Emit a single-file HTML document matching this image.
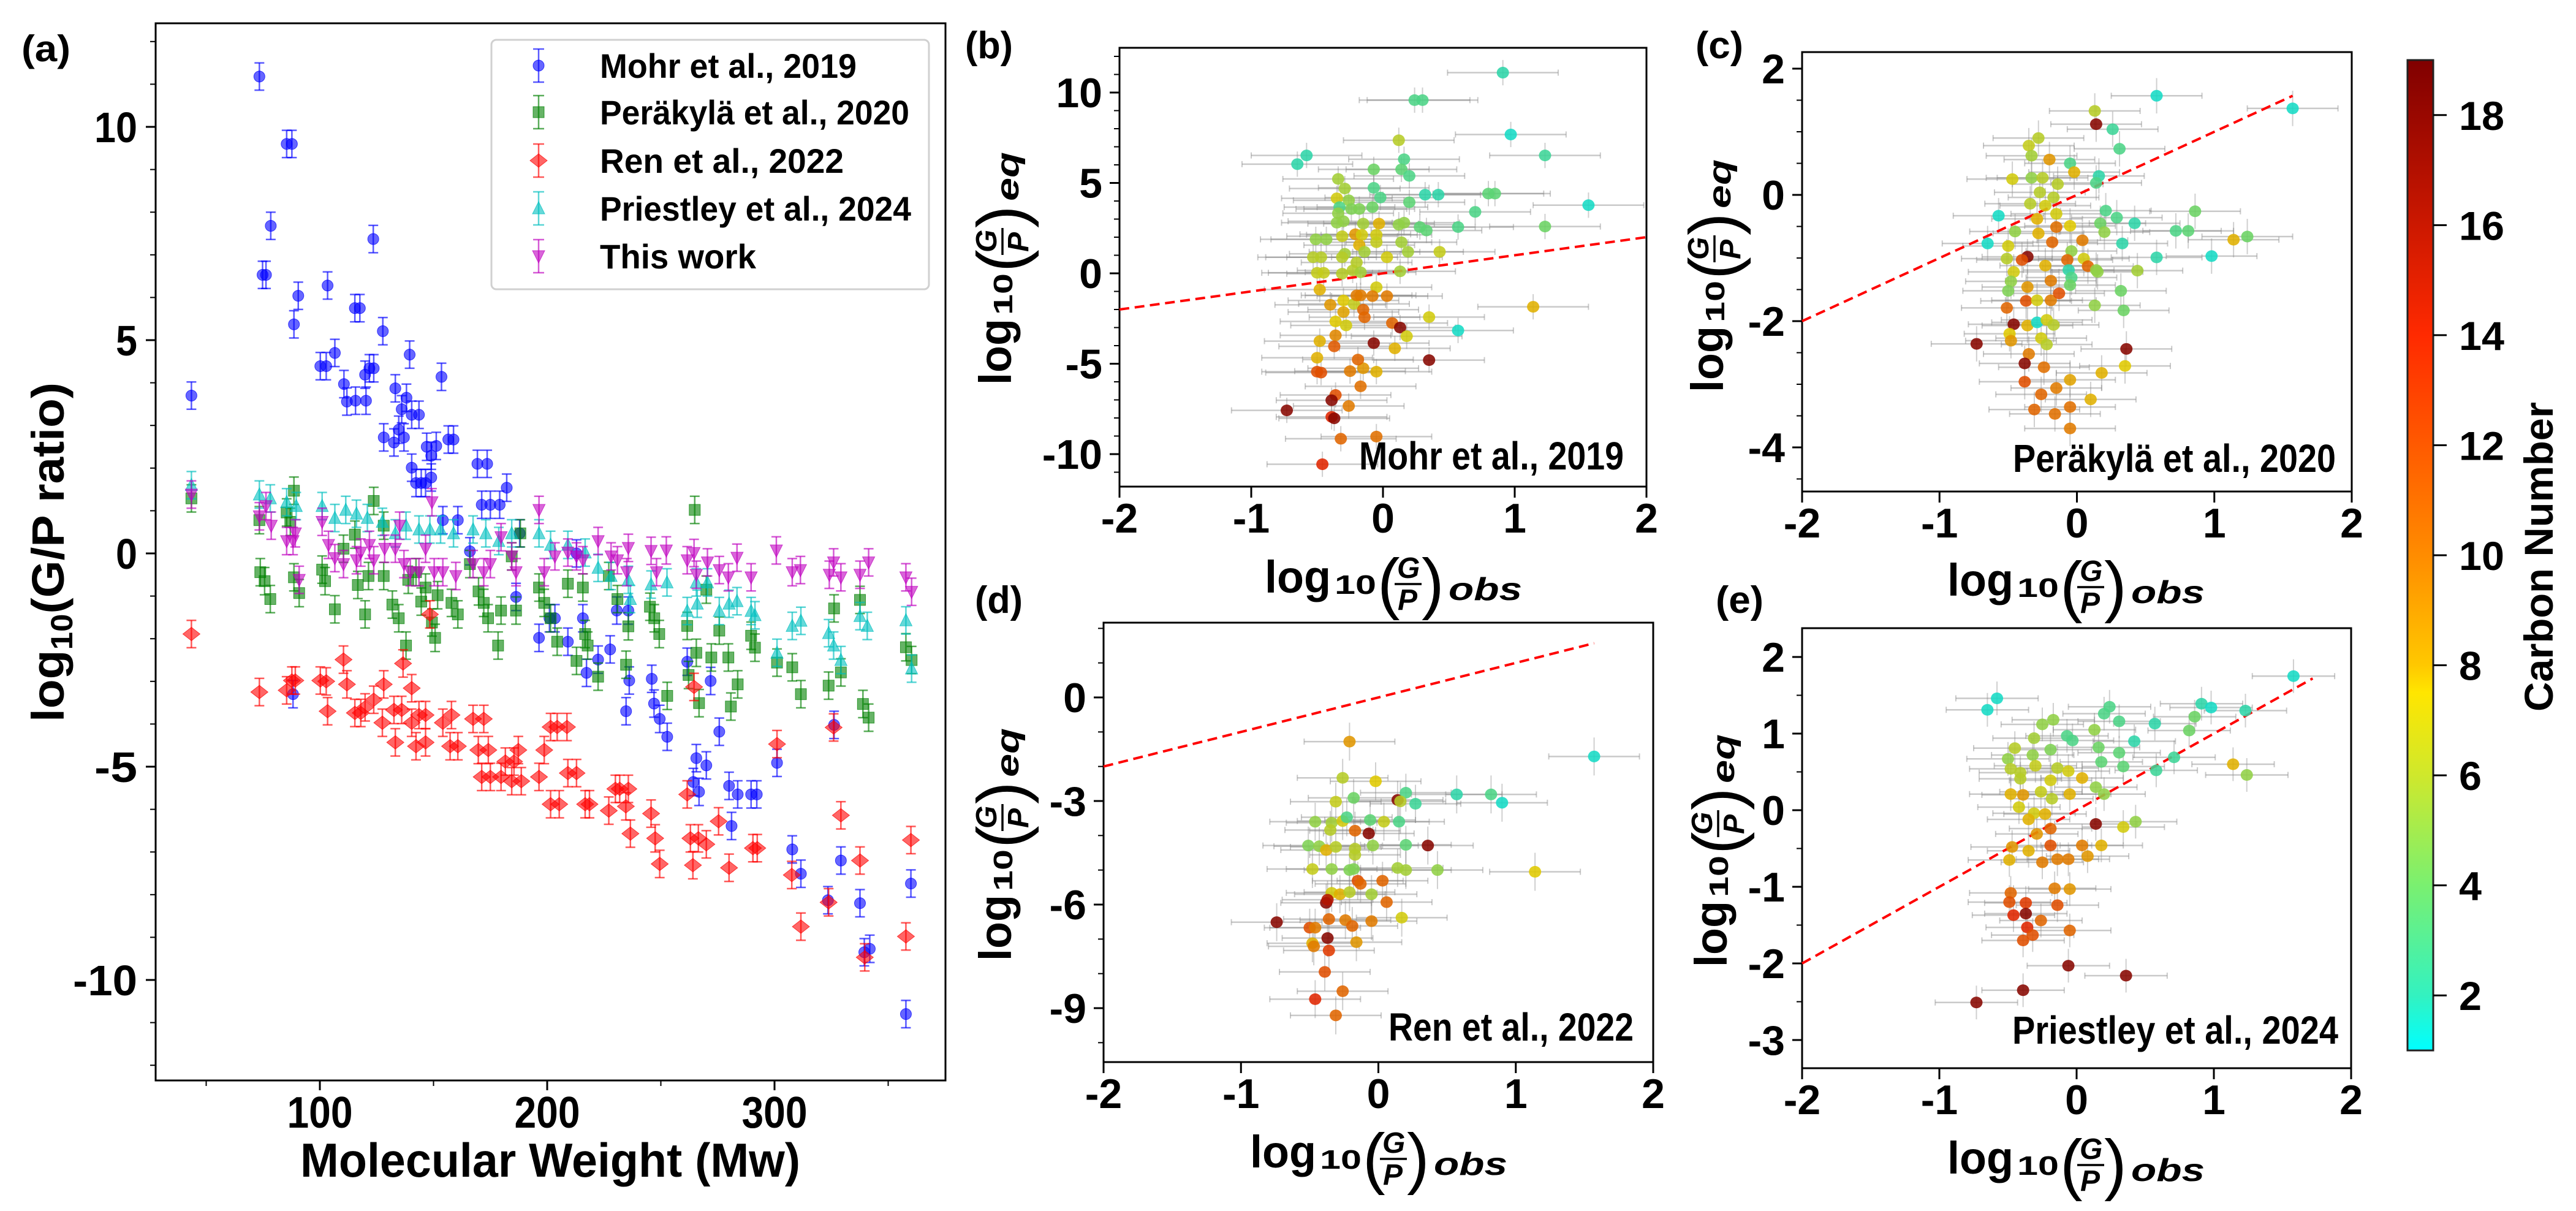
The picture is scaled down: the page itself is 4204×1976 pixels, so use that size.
<!DOCTYPE html>
<html><head><meta charset="utf-8"><title>G/P ratio figure</title>
<style>
html,body{margin:0;padding:0;background:#fff;}
svg{display:block;font-family:"Liberation Sans",Arial,sans-serif;}
</style></head>
<body>
<svg id="fig" xmlns="http://www.w3.org/2000/svg" width="4204" height="1976" viewBox="0 0 4204 1976">
<defs>
<linearGradient id="cmap" x1="0" y1="1" x2="0" y2="0">
<stop offset="0" stop-color="#00ffff"/>
<stop offset="0.0556" stop-color="#33f2c0"/>
<stop offset="0.1667" stop-color="#7af070"/>
<stop offset="0.2778" stop-color="#cfe82c"/>
<stop offset="0.3611" stop-color="#ffe600"/>
<stop offset="0.3889" stop-color="#ffc800"/>
<stop offset="0.5" stop-color="#ff8c00"/>
<stop offset="0.6111" stop-color="#ff5a00"/>
<stop offset="0.7222" stop-color="#ff2a00"/>
<stop offset="0.8333" stop-color="#cc1800"/>
<stop offset="1" stop-color="#800000"/>
</linearGradient>
</defs>
<g id="root"></g>
</svg>
<script>
// ---------------- Panel (a) data ----------------
const mohrMw = [43.5,73.4,74.8,76.3,78.4,85.4,87.7,88.6,90.5,88.2,100.2,102.8,103.4,106.6,110.6,111.9,115.4,117.6,115.7,120.3,119.9,121.8,123.7,123.5,127.7,128.1,133.2,132.6,134.7,137,136,138.1,139.5,140.4,143.6,140.4,142.3,144.6,146.5,149,147,149,151.2,153.5,156.5,158.8,169.3,173.6,171.2,175,179.1,182.2,154.1,160.7,166,187.9,186.3,196.4,201,203.4,209.1,212.9,215.7,217.3,222.4,227.7,230.6,235.7,236.1,234.7,246,247,249.5,252.8,261.6,265.6,264.3,266.8,270,271.9,275.7,280,283.8,281.1,289.7,292.2,301.1,307.8,311.6,323.5,326.2,329.2,337.6,339.5,341.9,357.8,360];
const mohrY = [3.7,11.18,6.53,6.53,7.68,9.6,9.6,5.37,6.04,-3.3,4.39,4.39,6.28,4.7,3.97,3.56,5.75,5.75,3.58,3.58,4.19,4.34,4.34,7.37,5.21,2.72,3.87,2.6,2.9,2.72,3.38,3.65,4.66,3.25,3.25,2.01,1.65,1.65,1.65,1.78,2.5,2.29,2.52,4.14,2.67,2.67,2.1,2.1,1.14,1.14,1.14,1.54,0.78,0.78,0.05,0.47,-1.02,-1.98,-1.52,-1.52,-2.07,0,-1.52,-2.8,-2.49,-2.25,-1.34,-1.34,-2.98,-3.7,-2.94,-3.52,-3.88,-4.3,-2.54,-4.8,-5.36,-5.59,-4.97,-2.99,-4.18,-5.45,-5.65,-6.39,-5.65,-5.65,-4.91,-6.94,-7.51,-8.13,-4.02,-7.2,-8.2,-9.35,-9.27,-10.8,-7.74];
const perMw = [43.5,73.4,73.8,75.7,78.2,85.4,87,88.6,88.6,90.9,101,102.3,106.6,110.4,115.4,116.7,119.9,121.4,123.7,128.1,128.1,131.9,134.7,137.9,138.9,142.3,144.6,146.5,149.3,150.7,151.8,157.9,160.7,166,169.8,172.1,174,178.4,179.7,186.3,184.4,188.2,196.4,198.7,201.5,204.4,209.1,212.9,215.7,216.7,217.8,222.4,227.1,230.9,234.7,235.7,245.2,247.1,249.3,252.8,264.9,261.6,262.2,265.6,266.8,270,272.2,275.7,279.7,280.8,283.8,289.7,291.4,301.1,307.8,311.6,323.8,326.2,329.2,337.6,338.9,341.4,357.8,360.3];
const perY = [1.29,0.78,-0.44,-0.65,-1.07,0.96,0.74,1.47,-0.56,-0.93,-0.38,-0.65,-1.31,0.11,0.44,-0.74,-1.43,-0.53,1.23,-0.53,0.65,-1.2,-1.52,-2.16,-0.62,-0.44,-1.13,-0.8,-1.62,-1.98,-0.98,-1.16,-1.43,-0.25,-0.89,-1.16,-1.52,-2.16,-1.34,-1.34,-0.07,0.47,-0.8,-1.16,-1.52,-2.07,-0.71,-2.52,-0.8,-1.89,-2.16,-2.89,-0.53,-1.07,-2.61,-1.71,-1.25,-1.52,-1.89,-3.34,1.02,-1.7,-2.85,-2.33,-3.51,-0.85,-2.44,-1.81,-2.44,-3.59,-3.07,-1.93,-2.21,-2.56,-2.67,-3.3,-3.1,-1.29,-2.79,-1.09,-3.53,-3.85,-2.2,-2.5];
const renMw = [43.5,73.4,85.4,87.7,89.2,100.2,102.8,103.4,110.4,111.9,115.4,118,119.9,123.7,127.5,128.1,133.2,132.6,136,136.6,140.4,140.4,142.3,143.6,146.5,146.5,148.4,154.1,157.9,157.3,160.7,167.4,172.1,169.7,174.1,171.2,175,179.7,181.6,185.4,187.3,184.4,188.6,196.4,198.7,201.5,204.4,201.5,205.3,208.7,209.1,212.9,216.7,218.6,227.1,230,231.9,235.7,234.6,236.6,245.7,247.5,249.5,261.6,263,264.1,266.5,270,264.6,275.4,280,290.5,292.4,301.1,307.6,311.6,323.8,326,329.2,337.6,339.7,357.8,360];
const renY = [-1.89,-3.25,-3.21,-2.98,-2.98,-2.98,-3.0,-3.7,-2.49,-3.07,-3.74,-3.74,-3.61,-3.43,-3.97,-3.07,-4.43,-3.67,-3.67,-2.58,-3.16,-3.97,-4.52,-3.79,-3.79,-4.43,-1.43,-3.97,-3.79,-4.52,-4.52,-3.88,-3.88,-4.61,-4.61,-5.24,-5.24,-5.24,-4.88,-4.88,-4.61,-5.34,-5.34,-5.24,-4.61,-4.07,-4.07,-5.88,-5.88,-4.07,-5.15,-5.15,-5.88,-5.88,-6.03,-5.52,-5.52,-5.52,-5.93,-6.57,-6.1,-6.68,-7.28,-5.65,-6.68,-7.31,-6.68,-6.82,-3.13,-6.28,-7.37,-6.91,-6.91,-4.47,-7.54,-8.75,-8.18,-4.08,-6.14,-7.2,-9.47,-8.98,-6.72];
const priMw = [43.5,73.4,78.2,85.4,89.6,101,106.6,111.4,116.1,120.9,127.5,133.2,137.9,143.6,148.4,153.1,158.8,167.4,173,178.7,184.4,196.4,201.5,209.1,216.7,222.4,228.1,235.7,236.6,245.7,252.7,261.6,265.6,266,270.5,275.7,280,283.5,289.7,291.4,301.1,307.8,311.6,323.8,326,329.2,337.6,340.8,357.8,360.3];
const priY = [1.6,1.38,1.29,1.2,1.11,1.11,0.83,1.02,0.93,0.83,0.74,0.47,0.65,0.56,0.56,0.56,0.47,0.56,0.47,0.29,0.47,0.47,0.2,0.2,0.02,-0.34,-0.53,-0.62,-1.07,-0.73,-0.68,-1.35,-0.68,-1.18,-0.68,-1.35,-1.18,-1.12,-1.35,-1.45,-2.33,-1.7,-1.58,-1.87,-2.16,-2.5,-1.47,-1.7,-1.57,-2.7];
const thisMw = [43.5,73.4,76.3,78.6,85.4,88.2,89.2,90.9,101,103.8,106.6,110.4,116.1,118,121.8,123.7,128.5,133.2,135.1,137,139.8,143.6,146.5,149.3,150.3,154.1,159.8,167.4,172.1,175,179.7,184.4,186.3,196.4,198.7,203.4,209.1,212.9,215.7,222.4,228.1,230.9,235.7,235,245.7,248.1,252.4,261.6,264.6,265.6,270.5,275.7,279.7,283.5,289.7,300.8,307.8,311.4,324.1,326,329.2,337.6,341.4,357.8,360.3];
const thisY = [1.38,0.87,1.11,0.65,0.29,0.29,0.47,-0.62,0.74,0.2,-0.11,-0.25,-0.16,0.02,0.2,-0.16,0.11,0.11,0.65,-0.25,-0.44,-0.44,0.11,1.2,-0.44,-0.44,-0.53,-0.25,-0.44,-0.25,0.38,-0.07,-0.44,1.02,-0.44,-0.07,0.02,-0.07,-0.16,0.29,-0.07,-0.16,0.13,-0.44,0.06,-0.44,0.07,-0.16,0.01,-0.5,-0.21,-0.39,-0.56,-0.1,-0.56,0.07,-0.44,-0.39,-0.5,-0.21,-0.56,-0.5,-0.21,-0.56,-0.9];
const aErr = 0.32;
const aXTicks = [100,200,300];
const aYTicks = [-10,-5,0,5,10];
const legendLabels = ["Mohr et al., 2019","Peräkylä et al., 2020","Ren et al., 2022","Priestley et al., 2024","This work"];

// ---------------- Panel (b) Mohr ----------------
const bX = [0.91,0.24,0.30,0.97,0.12,-0.58,-0.65,0.16,1.23,-0.07,0.14,0.2,-0.34,-0.29,-0.07,-0.35,-0.26,-0.02,0.32,0.42,0.80,0.85,0.2,1.56,-0.33,-0.24,-0.18,-0.08,0.7,-0.34,-0.35,-0.3,-0.15,-0.03,0.12,0.16,0.28,0.33,0.57,1.23,-0.51,-0.43,-0.31,-0.21,-0.16,-0.05,-0.05,-0.18,0.14,-0.29,-0.14,0.19,0.43,-0.53,-0.47,-0.31,0.03,-0.2,-0.5,-0.45,-0.31,-0.23,-0.17,0.13,-0.48,-0.05,-0.4,-0.3,-0.22,-0.2,-0.17,-0.08,0.03,-0.3,-0.15,-0.14,0.35,1.14,-0.36,-0.28,0.07,0.13,0.57,-0.48,-0.36,-0.37,-0.07,0.09,0.18,0.35,-0.5,-0.5,-0.47,-0.25,-0.15,-0.19,-0.05,-0.17,-0.36,-0.39,-0.73,-0.26,-0.39,-0.37,-0.32,-0.05,-0.46];
const bY = [11.1,9.58,9.58,7.68,7.36,6.52,6.04,6.31,6.52,5.75,5.75,5.39,5.22,4.69,4.73,4.15,4.04,4.19,4.35,4.35,4.41,4.41,3.93,3.77,3.66,3.56,3.56,3.66,3.4,3.32,2.8,2.88,2.75,2.75,2.69,2.8,2.56,2.37,2.56,2.59,1.88,1.88,2.05,2.16,2.13,2.13,1.72,1.56,1.72,1.08,1.19,1.19,1.19,0.89,0.89,0.89,0.89,0.6,0.03,0.03,-0.02,0.16,0.06,0.11,-0.9,-0.77,-1.74,-1.5,-1.69,-1.22,-1.22,-1.26,-1.26,-2.14,-2.01,-2.43,-2.42,-1.85,-2.66,-2.88,-2.75,-3.0,-3.16,-3.75,-3.43,-4.04,-3.86,-4.15,-3.48,-4.8,-4.67,-5.44,-5.49,-5.41,-5.25,-4.77,-5.44,-6.25,-6.73,-7.02,-7.58,-7.34,-7.94,-8.02,-9.15,-9.03,-10.56];
const bC = [2,3,3,1.5,6,2,2,3,2.5,4,3.5,3,5.5,5.5,3,7,5,3,2,2,3.5,3.5,3.5,1.5,3,4.5,4.5,4,3,5,5,5,5.5,8,5,5,3.5,3.5,3,4,5,5,6.5,9,7,7,6.5,8,5.5,5.5,5.5,5.5,6.5,6,6,6,7,6,6.5,6.5,6,6,5.5,5.5,8,7,9,7.5,6.5,10,10,10,10,8.5,11,11,7,8,7.5,7,11,18,1.5,8,9.5,11.5,18,8,7,18,8,12,12,10,9,11,8,10.5,12,18,18,10,14,18,11,10.5,14];
// ---------------- Panel (c) Peräkylä ----------------
const cX = [0.58,1.57,0.13,0.14,0.26,-0.28,-0.35,-0.33,0.31,-0.2,-0.05,-0.02,0.16,-0.47,-0.33,-0.25,-0.14,0.14,-0.27,-0.17,-0.34,-0.23,-0.15,0.21,-0.57,-0.29,-0.15,-0.05,0.17,0.29,0.42,0.2,0.72,0.81,0.86,1.14,1.24,-0.45,-0.28,-0.18,0.04,0.33,-0.65,-0.5,-0.04,-0.51,-0.36,-0.4,-0.07,0.05,0.08,0.58,0.98,-0.46,-0.23,-0.06,0.14,0.15,0.44,-0.48,-0.36,-0.19,-0.04,-0.05,0.32,-0.5,-0.37,-0.29,-0.19,-0.13,0.13,0.34,-0.51,-0.46,-0.36,-0.29,-0.22,-0.17,-0.73,-0.49,-0.48,-0.26,-0.22,0.36,-0.35,-0.38,-0.24,0.18,0.35,-0.38,-0.05,-0.15,-0.26,0.1,-0.31,-0.16,-0.05,-0.05];
const cY = [1.57,1.37,1.33,1.12,1.04,0.9,0.78,0.62,0.73,0.56,0.5,0.36,0.3,0.25,0.27,0.27,0.17,0.19,0.04,-0.04,-0.14,-0.17,-0.3,-0.25,-0.33,-0.38,-0.51,-0.49,-0.45,-0.36,-0.45,-0.59,-0.57,-0.57,-0.26,-0.71,-0.66,-0.58,-0.61,-0.75,-0.72,-0.77,-0.77,-0.81,-0.89,-1.01,-0.98,-1.03,-1.03,-1.01,-1.13,-0.99,-0.97,-1.22,-1.12,-1.19,-1.19,-1.22,-1.2,-1.37,-1.46,-1.36,-1.31,-1.43,-1.52,-1.52,-1.68,-1.67,-1.67,-1.56,-1.75,-1.83,-1.79,-2.05,-2.07,-2.02,-1.98,-2.06,-2.36,-2.2,-2.31,-2.27,-2.37,-2.44,-2.52,-2.67,-2.73,-2.82,-2.71,-2.96,-2.93,-3.06,-3.16,-3.24,-3.4,-3.47,-3.36,-3.7];
const cC = [1.5,1.5,6,18,2.5,6,6.5,5.5,3,9,3,8,2,7,5,6,6,3,6,6,6,7,7,3,1.5,8,10.5,7.5,4,3,2,5,3,3.5,4,8,4,5,8,11,10,2,1.5,7,5,6,18,12,11,7,11,2,1.5,7,8,2,5,5,5.5,5,9,10,3,4,4,4.5,12,7,10,12,5,4,11,18,8,1.5,7,6,18,7.5,9,7,6,18,10,18,10.5,8,7.5,12,8.5,10,11,8,11,10.5,10.5,10];
// ---------------- Panel (d) Ren ----------------
const dX = [-0.21,1.57,-0.26,-0.02,-0.31,-0.18,0.14,0.2,0.16,0.27,0.57,0.82,0.9,-0.46,-0.34,-0.26,-0.23,-0.06,0.04,0.15,-0.17,-0.07,-0.35,-0.51,-0.43,-0.38,-0.31,-0.17,-0.17,-0.04,0.2,0.36,-0.48,-0.34,-0.21,-0.18,0.14,0.2,0.43,1.14,-0.15,0.03,-0.13,-0.34,-0.28,-0.21,-0.05,0.06,-0.38,-0.37,-0.36,-0.24,-0.05,0.17,-0.74,-0.5,-0.46,-0.19,-0.37,-0.48,-0.47,-0.16,-0.36,-0.39,-0.26,-0.46,-0.31];
const dY = [-1.28,-1.71,-2.33,-2.43,-3.02,-2.91,-2.97,-2.76,-3.01,-3.08,-2.81,-2.81,-3.05,-3.6,-3.63,-3.58,-3.47,-3.55,-3.6,-3.6,-3.86,-3.94,-3.84,-4.29,-4.31,-4.42,-4.33,-4.38,-4.56,-4.29,-4.27,-4.29,-4.97,-4.97,-5.0,-4.97,-4.94,-5.0,-5.0,-5.05,-5.31,-5.31,-5.4,-5.66,-5.7,-5.64,-5.7,-5.93,-5.95,-5.86,-6.42,-6.45,-6.48,-6.38,-6.51,-6.67,-6.67,-6.62,-6.97,-7.12,-7.21,-7.09,-7.33,-7.95,-8.51,-8.74,-9.21];
const dC = [9,1.5,6,7.5,6.5,4,18,3,6,2.5,2,3,1.5,5,5.5,7,3,3.5,6.5,3,11,18,6,4.5,5,8,6,6,6,5,3.5,18,6.5,5,4.5,4.5,5.5,5.5,5,7.5,12,11,11,7,8,6,5.5,11,18,16,11,10,10,7,18,12,10,11,18,8,10,9,13,12,11,14,11];
// ---------------- Panel (e) Priestley ----------------
const eX = [1.58,-0.58,-0.65,0.91,0.98,1.23,0.24,0.2,0.31,0.57,0.86,0.82,-0.17,-0.25,-0.31,-0.07,0.13,0.42,-0.45,-0.5,-0.32,-0.19,-0.03,0.16,0.31,0.71,-0.48,-0.41,-0.3,-0.14,-0.06,0.18,0.34,0.58,1.14,1.24,-0.41,-0.19,0.04,0.14,-0.48,-0.39,-0.26,-0.18,-0.05,0.2,-0.42,-0.31,-0.23,-0.35,-0.19,0.14,0.34,0.43,-0.29,-0.47,-0.19,0.04,0.18,-0.35,-0.49,-0.25,-0.14,-0.06,0.08,-0.16,-0.05,-0.48,-0.49,-0.37,-0.14,-0.46,-0.37,-0.26,-0.36,-0.32,-0.05,-0.39,-0.06,0.36,-0.39,-0.73];
const eY = [1.75,1.46,1.31,1.39,1.34,1.3,1.35,1.26,1.16,1.13,1.22,1.04,1.18,1.12,0.94,0.97,1.05,0.9,0.81,0.67,0.72,0.79,0.91,0.82,0.75,0.69,0.54,0.49,0.58,0.55,0.51,0.63,0.57,0.52,0.6,0.46,0.41,0.39,0.42,0.3,0.21,0.2,0.24,0.15,0.21,0.21,0.04,-0.04,-0.05,-0.12,-0.24,-0.18,-0.22,-0.15,-0.31,-0.48,-0.46,-0.46,-0.46,-0.53,-0.65,-0.68,-0.64,-0.64,-0.6,-1.02,-1.03,-1.08,-1.2,-1.21,-1.24,-1.37,-1.35,-1.44,-1.53,-1.63,-1.57,-1.7,-2.03,-2.16,-2.35,-2.51];
const eC = [1.5,1.5,1.5,2,1.5,2,3,3,3,2,4,4,5,5,5.5,3,5,2,6,5,5,4.5,3,4,3.5,2.5,6,6,6.5,6,7,3.5,3.5,2.5,8,5,6,7,8,5,8,9,6.5,6,8,5,7,7,8,8,11,18,7,5,9,9,12,10,8,8,8,10,10,10,9,10,9,11,12,13,12,14,18,11,14,12,11,12,18,18,18,18];
const sXTicks = [-2,-1,0,1,2];
const bYTicks = [-10,-5,0,5,10];
const cYTicks = [-4,-2,0,2];
const dYTicks = [-9,-6,-3,0];
const eYTicks = [-3,-2,-1,0,1,2];
const cbTicks = [2,4,6,8,10,12,14,16,18];
const xErrs = {b:0.42,c:0.33,d:0.33,e:0.3};
const yErrs = {b:0.7,c:0.28,d:0.55,e:0.22};

// ---------------- helpers ----------------
const NS = "http://www.w3.org/2000/svg";
const root = document.getElementById('root');
function mk(tag, attrs, parent){ const e=document.createElementNS(NS,tag); for(const k in attrs) e.setAttribute(k,attrs[k]); (parent||root).appendChild(e); return e; }
function txt(s, attrs, parent){ const e=mk('text',attrs,parent); e.textContent=s; return e; }
function lin(a0,a1,p0,p1){ return v => p0 + (v-a0)/(a1-a0)*(p1-p0); }

const stops=[[1,[0,255,255]],[2,[51,242,192]],[4,[122,240,112]],[6,[207,232,44]],[7.5,[255,230,0]],[8,[255,200,0]],[10,[255,140,0]],[12,[255,90,0]],[14,[255,42,0]],[16,[204,24,0]],[19,[128,0,0]]];
function cmap(v){ for(let i=0;i<stops.length-1;i++){ const [a,ca]=stops[i],[b,cb]=stops[i+1]; if(v<=b){ const t=Math.max(0,(v-a)/(b-a)); return 'rgb('+ca.map((c,j)=>Math.round((c+(cb[j]-c)*t)*0.88)).join(',')+')'; } } return 'rgb(113,0,0)'; }

// ---------------- Panel (a) ----------------
const ga = mk('g',{});


const ax = lin(100,200,522,893), ay = lin(0,10,903,207);
const aL=254,aR=1543,aT=38,aB=1763;
const fa = mk('rect',{x:aL,y:aT,width:aR-aL,height:aB-aT,fill:'none',stroke:'#000','stroke-width':3},ga);
 
for(let v=-12; v<=12; v++){ const y=ay(v); if(y<aT||y>aB) continue; const major = v%5===0; mk('line',{x1:aL,x2:aL-(major?16:9),y1:y,y2:y,stroke:'#000','stroke-width':major?3:2},ga); }
aYTicks.forEach(v=>{ const t=txt(String(v),{x:aL-30,y:ay(v)+25,'text-anchor':'end','font-size':70,'font-weight':'bold',textLength:String(v).length*35,lengthAdjust:'spacingAndGlyphs'},ga);
   });
for(let v=50; v<=350; v+=50){ const x=ax(v); const major=v%100===0; mk('line',{x1:x,x2:x,y1:aB,y2:aB+(major?16:9),stroke:'#000','stroke-width':major?3:2},ga); }
aXTicks.forEach(v=>{ const t=txt(String(v),{x:ax(v),y:1840,'text-anchor':'middle','font-size':72,'font-weight':'bold',textLength:107,lengthAdjust:'spacingAndGlyphs'},ga);
   });
let t0=txt('Molecular Weight (Mw)',{x:490,y:1920,'font-size':78,'font-weight':'bold',textLength:816,lengthAdjust:'spacingAndGlyphs'},ga);
 
const yl = mk('text',{transform:'translate(104,1178) rotate(-90)','font-size':74,'font-weight':'bold',textLength:554,lengthAdjust:'spacingAndGlyphs'},ga);
 
yl.innerHTML='log<tspan font-size="50" dy="14">10</tspan><tspan dy="-14">(G/P ratio)</tspan>';
let pa=txt('(a)',{x:35,y:100,'font-size':60,'font-weight':'bold',textLength:80,lengthAdjust:'spacingAndGlyphs'});
 

function marker(shape,x,y,col,g){
  const r=9; let m;
  if(shape==='o') m=mk('ellipse',{cx:x,cy:y,rx:r,ry:r,fill:col,'fill-opacity':0.6,stroke:col,'stroke-opacity':0.7},g);
  else if(shape==='s') m=mk('rect',{x:x-r,y:y-r,width:2*r,height:2*r,fill:col,'fill-opacity':0.6,stroke:col,'stroke-opacity':0.7},g);
  else if(shape==='d') m=mk('polygon',{points:`${x-14},${y} ${x},${y-11} ${x+14},${y} ${x},${y+11}`,fill:col,'fill-opacity':0.6,stroke:col,'stroke-opacity':0.7},g);
  else if(shape==='^') m=mk('polygon',{points:`${x-10},${y+9} ${x+10},${y+9} ${x},${y-11}`,fill:col,'fill-opacity':0.6,stroke:col,'stroke-opacity':0.7},g);
  else m=mk('polygon',{points:`${x-10},${y-9} ${x+10},${y-9} ${x},${y+11}`,fill:col,'fill-opacity':0.6,stroke:col,'stroke-opacity':0.7},g);
  return m;
}
function errV(x,y0,y1,col,g,cap){ mk('line',{x1:x,x2:x,y1:y0,y2:y1,stroke:col,'stroke-width':2.5,'stroke-opacity':0.65},g);
  mk('line',{x1:x-cap,x2:x+cap,y1:y0,y2:y0,stroke:col,'stroke-width':2.5,'stroke-opacity':0.65},g);
  mk('line',{x1:x-cap,x2:x+cap,y1:y1,y2:y1,stroke:col,'stroke-width':2.5,'stroke-opacity':0.65},g); }
const series=[
 {name:'mohr',xs:mohrMw,ys:mohrY,col:'#0000ff',sh:'o'},
 {name:'perakyla',xs:perMw,ys:perY,col:'#008000',sh:'s'},
 {name:'ren',xs:renMw,ys:renY,col:'#ff0000',sh:'d'},
 {name:'priestley',xs:priMw,ys:priY,col:'#00bfbf',sh:'^'},
 {name:'this-work',xs:thisMw,ys:thisY,col:'#bf00bf',sh:'v'}];
series.forEach(s=>{
  const g=mk('g',{},ga);
  
  
  s.xs.forEach((mw,i)=>{ const x=ax(mw), y=ay(s.ys[i]);
    errV(x,ay(s.ys[i]+aErr),ay(s.ys[i]-aErr),s.col,g,8);
    const m=marker(s.sh,x,y,s.col,g);
    
     });
});
// legend
const lg=mk('g',{},ga);


mk('rect',{x:802,y:65,width:714,height:407,rx:8,fill:'#fff','fill-opacity':0.85,stroke:'#d0d0d0','stroke-width':3},lg);
const legY=[107,183,262,340,418], legW=[419,505,398,508,255];
series.forEach((s,i)=>{
  const eg=mk('g',{},lg);
  
  
  errV(879,legY[i]-27,legY[i]+27,s.col,eg,9);
  marker(s.sh,879,legY[i],s.col,eg);
  txt(legendLabels[i],{x:979,y:legY[i]+20,'font-size':56,'font-weight':'bold',textLength:legW[i],lengthAdjust:'spacingAndGlyphs'},eg);
});

// ---------------- scatter panels ----------------
function axisTitle(g,x,y,rot,sub,nm){
  const t=mk('g',{transform:`translate(${x},${y}) rotate(${rot})`},g);
  
  
  txt('log',{x:0,y:0,'font-size':74,'font-weight':'bold',textLength:108,lengthAdjust:'spacingAndGlyphs'},t);
  txt('10',{x:114,y:2,'font-size':44,'font-weight':'bold',textLength:68,lengthAdjust:'spacingAndGlyphs'},t);
  txt('(',{x:184,y:22,'font-size':110,'font-weight':'normal'},t);
  txt('G',{x:216,y:-24,'font-size':48,'font-weight':'bold','font-style':'italic'},t);
  mk('line',{x1:212,x2:256,y1:-14,y2:-14,stroke:'#000','stroke-width':3.5},t);
  txt('P',{x:217,y:28,'font-size':48,'font-weight':'bold','font-style':'italic'},t);
  txt(')',{x:256,y:22,'font-size':110,'font-weight':'normal'},t);
  txt(sub,{x:300,y:12,'font-size':52,'font-weight':'bold','font-style':'italic',textLength:sub.length*40,lengthAdjust:'spacingAndGlyphs'},t);
}
function panel(o){
  const g=mk('g',{});
  
  
  const sx=lin(-2,2,o.L,o.R), sy=lin(o.y0v,o.y1v,o.y0p,o.y1p);
  const fr=mk('rect',{x:o.L,y:o.T,width:o.R-o.L,height:o.B-o.T,fill:'none',stroke:'#000','stroke-width':3},g);
   
  for(let v=-30; v<=30; v++){ const val=v*o.minor; const y=sy(val); if(y<o.T-1||y>o.B+1) continue;
    const major=o.yt.some(t=>Math.abs(t-val)<1e-6); mk('line',{x1:o.L,x2:o.L-(major?16:9),y1:y,y2:y,stroke:'#000','stroke-width':major?3:2},g); }
  o.yt.forEach(v=>{ const t=txt(String(v),{x:o.L-28,y:sy(v)+24,'text-anchor':'end','font-size':68,'font-weight':'bold'},g);
      });
  sXTicks.forEach(v=>{ mk('line',{x1:sx(v),x2:sx(v),y1:o.B,y2:o.B+18,stroke:'#000','stroke-width':3},g);
    const t=txt(String(v),{x:sx(v),y:o.B+75,'text-anchor':'middle','font-size':68,'font-weight':'bold'},g);
      });
  const eg=mk('g',{},g);
  
  
  o.xs.forEach((xv,i)=>{ const x=sx(xv), y=sy(o.ys[i]);
    const x0=Math.max(o.L,sx(xv-o.xe)), x1=Math.min(o.R,sx(xv+o.xe));
    mk('line',{x1:x0,x2:x1,y1:y,y2:y,stroke:'#888','stroke-width':2.5,'stroke-opacity':0.45},eg);
    mk('line',{x1:x0,x2:x0,y1:y-5,y2:y+5,stroke:'#888','stroke-width':2,'stroke-opacity':0.45},eg);
    mk('line',{x1:x1,x2:x1,y1:y-5,y2:y+5,stroke:'#888','stroke-width':2,'stroke-opacity':0.45},eg);
    mk('line',{x1:x,x2:x,y1:sy(o.ys[i]+o.ye),y2:sy(o.ys[i]-o.ye),stroke:'#888','stroke-width':2,'stroke-opacity':0.4},eg); });
  const dl=mk('line',{x1:sx(-2),y1:sy(-2),x2:sx(o.lineEnd),y2:sy(o.lineEnd),stroke:'#ff0000','stroke-width':4,'stroke-dasharray':'16,9'},g);
   
  o.xs.forEach((xv,i)=>{ const p=mk('ellipse',{cx:sx(xv),cy:sy(o.ys[i]),rx:10,ry:9.5,fill:cmap(o.cs[i]),'fill-opacity':0.88},g);
      });
  const lb=txt(o.label,{x:o.lblR,y:o.lblY,'text-anchor':'end','font-size':64,'font-weight':'bold',textLength:o.lblW,lengthAdjust:'spacingAndGlyphs'},g);
   
  const tg=txt('('+o.id+')',{x:o.tagX,y:o.tagY,'font-size':62,'font-weight':'bold',textLength:78,lengthAdjust:'spacingAndGlyphs'});
   
  axisTitle(g,o.yLx,o.yLy,-90,'eq',o.id+'-y-axis-title');
  axisTitle(g,o.xLx,o.xLy,0,'obs',o.id+'-x-axis-title');
}
panel({id:'b',L:1827,R:2687,T:78,B:794,y0v:0,y1v:10,y0p:446,y1p:151,minor:1,yt:bYTicks,xs:bX,ys:bY,cs:bC,xe:xErrs.b,ye:yErrs.b,lineEnd:2,
 label:'Mohr et al., 2019',lblR:2650,lblY:766,lblW:432,tagX:1575,tagY:95,yLx:1650,yLy:628,xLx:2064,xLy:967});
panel({id:'c',L:2941,R:3838,T:85,B:802,y0v:0,y1v:2,y0p:318,y1p:112,minor:0.5,yt:cYTicks,xs:cX,ys:cY,cs:cC,xe:xErrs.c,ye:yErrs.c,lineEnd:1.57,
 label:'Peräkylä et al., 2020',lblR:3812,lblY:770,lblW:527,tagX:2767,tagY:95,yLx:2812,yLy:640,xLx:3178,xLy:972});
panel({id:'d',L:1801,R:2698,T:1016,B:1733,y0v:0,y1v:-3,y0p:1138,y1p:1307,minor:1,yt:dYTicks,xs:dX,ys:dY,cs:dC,xe:xErrs.d,ye:yErrs.d,lineEnd:1.57,
 label:'Ren et al., 2022',lblR:2666,lblY:1698,lblW:400,tagX:1591,tagY:1000,yLx:1650,yLy:1568,xLx:2040,xLy:1905});
panel({id:'e',L:2941,R:3837,T:1025,B:1743,y0v:0,y1v:1,y0p:1322,y1p:1197,minor:0.5,yt:eYTicks,xs:eX,ys:eY,cs:eC,xe:xErrs.e,ye:yErrs.e,lineEnd:1.72,
 label:'Priestley et al., 2024',lblR:3816,lblY:1703,lblW:532,tagX:2800,tagY:1000,yLx:2818,yLy:1578,xLx:3178,xLy:1915});

// ---------------- colorbar ----------------
const cg=mk('g',{});


const cy=lin(1,19,1714,98);
mk('rect',{x:3929,y:98,width:42,height:1616,fill:'url(#cmap)',stroke:'#222','stroke-width':3},cg);
cbTicks.forEach(v=>{ mk('line',{x1:3971,x2:3993,y1:cy(v),y2:cy(v),stroke:'#000','stroke-width':3},cg);
  const t=txt(String(v),{x:4013,y:cy(v)+24,'font-size':66,'font-weight':'bold',textLength:String(v).length*37,lengthAdjust:'spacingAndGlyphs'},cg);
    });
const ct=txt('Carbon Number',{transform:'translate(4166,1161) rotate(-90)','font-size':66,'font-weight':'bold',textLength:505,lengthAdjust:'spacingAndGlyphs'},cg);
 
</script>
</body></html>
